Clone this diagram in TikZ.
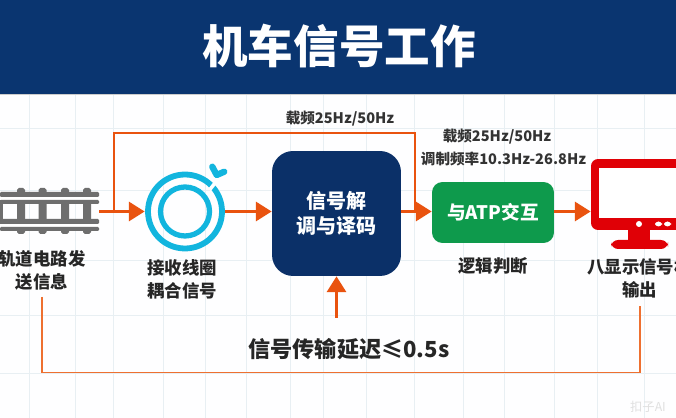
\documentclass[tikz,border=0pt]{standalone}
\usepackage{fontspec}
\setmainfont{Noto Sans CJK SC}
\usepackage{xcolor}
\usetikzlibrary{arrows.meta}
\definecolor{bannerblue}{HTML}{0A3570}
\definecolor{boxblue}{HTML}{0B3068}
\definecolor{boxgreen}{HTML}{0E9A4C}
\definecolor{wireorange}{HTML}{E9530F}
\definecolor{loopline}{HTML}{EE7030}
\definecolor{coilblue}{HTML}{12B5DE}
\definecolor{railgray}{HTML}{6E6E6E}
\definecolor{screenred}{HTML}{E00006}
\definecolor{gridline}{HTML}{E8EFF3}
\tikzset{
	wire/.style={draw=wireorange,line width=1.2pt},
	flow/.style={draw=wireorange,line width=1.8pt,-{Triangle[length=9pt,width=10.8pt,fill=wireorange]}},
	label/.style={font=\fontsize{9.9}{13}\selectfont\bfseries,align=center,text=black!85,inner sep=0pt},
	small/.style={font=\fontsize{8.3}{11}\selectfont\bfseries,text=black!80,inner sep=0pt},
	block/.style={font=\fontsize{11.4}{14.6}\selectfont\bfseries,align=center,text=white,inner sep=0pt},
}
\begin{document}
\begin{tikzpicture}[x=0.02cm,y=-0.02cm]
		\clip (0,0) rectangle (676,418);
		\fill[white!97!gridline] (0,0) rectangle (676,418);
		\foreach \gx in {29,75,113,163,205,246,290,323,366,414,463,504,554,597,644}
			\draw[gridline,line width=.4pt] (\gx,94) -- (\gx,418);
		\foreach \gy in {128,190,260,315,373}
			\draw[gridline,line width=.4pt] (0,\gy) -- (676,\gy);
		%
		\fill[black!20] (0,94) rectangle (676,95.5);
		\fill[bannerblue] (0,0) rectangle (676,94);
		\node[font=\fontsize{25.9}{30}\selectfont\bfseries,text=white,inner sep=0pt] (Title) at (339,46) {机车信号工作};
		%
		\node[minimum width=1.98cm,minimum height=0.86cm,inner sep=0pt] (Rail) at (49.5,211.5) {};
		\node[circle,minimum size=1.6cm,inner sep=0pt] (Coil) at (185,211.5) {};
		\node[fill=boxblue,rounded corners=12pt,minimum width=2.58cm,minimum height=2.5cm,block] (Decode) at (336.5,213.5) {信号解\\调与译码};
		\node[fill=boxgreen,rounded corners=6pt,minimum width=2.44cm,minimum height=1.22cm,block,font=\fontsize{10.6}{13}\selectfont\bfseries] (Logic) at (493,212.5) {与ATP交互};
		\node[fill=screenred,rounded corners=4pt,minimum width=1.92cm,minimum height=1.42cm,inner sep=0pt] (Monitor) at (639,194.5) {};
		%
		\foreach \tx in {17,38.5,61,83}
			\fill[railgray,rounded corners=1pt] (\tx,188) rectangle (\tx+8,234);
		\fill[railgray] (0,200) rectangle (3,224);
		\fill[white] (0,197) rectangle (99,200);
		\fill[white] (0,224) rectangle (99,227);
		\foreach \ry/\rh in {192/5,200/4,219/5,227/4}
			\fill[railgray,rounded corners=.6pt] (0,\ry) rectangle (99,\ry+\rh);
		%
		\draw[coilblue,line width=3.3pt] (Coil.center) circle[radius=37];
		\draw[coilblue,line width=3pt] (Coil.center) circle[radius=24.5];
		\draw[white,line width=2pt] (209.5,190) -- (219,178);
		\draw[coilblue,line width=3.6pt,line cap=round,line join=round] (212.3,166.7) -- (216.7,175) -- (224.3,171.7);
		%
		\fill[white] (599,168) rectangle (680,218);
		\fill[white] (639,224) circle[radius=3];
		\fill[white,rounded corners=2pt] (655,221.5) rectangle (662,226.5);
		\fill[white,rounded corners=2pt] (664,221.5) rectangle (671,226.5);
		\fill[screenred] (628,229) rectangle (650,241);
		\fill[screenred,rounded corners=4pt] (611,240) rectangle (668,249);
		%
		\node[label] (RailText) at (42,270.5) {轨道电路发\\送信息};
		\node[label] (CoilText) at (182,279.5) {接收线圈\\耦合信号};
		\node[label] (LogicText) at (493,266) {逻辑判断};
		\node[label] (MonitorText) at (639.5,278.5) {八显示信号机\\输出};
		\node[small] (CarrierTop) at (340,119) {载频25Hz/50Hz};
		\node[small] (CarrierSide) at (497,137) {载频25Hz/50Hz};
		\node[small] (Modulation) at (503.5,159) {调制频率10.3Hz-26.8Hz};
		\node[font=\fontsize{12.6}{15}\selectfont\bfseries,text=black!85,inner sep=0pt] (Delay) at (349,349) {信号传输延迟≤0.5s};
		\node[font=\fontsize{7}{8}\selectfont,text=black!12,inner sep=0pt] (Mark) at (648,407) {扣子AI};
		%
		\coordinate (Fork) at (114,211.5);
		\coordinate (Over) at (264,133);
		\coordinate (Join) at (415,211.5);
		\coordinate (DelayTop) at (336.5,318);
		\coordinate (LoopL) at (42,297);
		\coordinate (LoopB) at (340,372.5);
		\coordinate (LoopR) at (640,306);
		%
		\draw[wire] (Fork) |- (Over) -| (Join);
		\draw[loopline,line width=1.1pt] (LoopL) |- (LoopB) -| (LoopR);
		\draw[flow] (Rail.east) -- (Coil.west);
		\draw[flow] (Coil.east) -- (Coil.east -| Decode.west);
		\draw[flow] (Decode.east |- Coil.east) -- (Coil.east -| Logic.west);
		\draw[flow] (Logic.east |- Coil.east) -- (Coil.east -| Monitor.west);
		\draw[flow] (DelayTop) -- (Decode.south);
		\end{tikzpicture}
\end{document}
